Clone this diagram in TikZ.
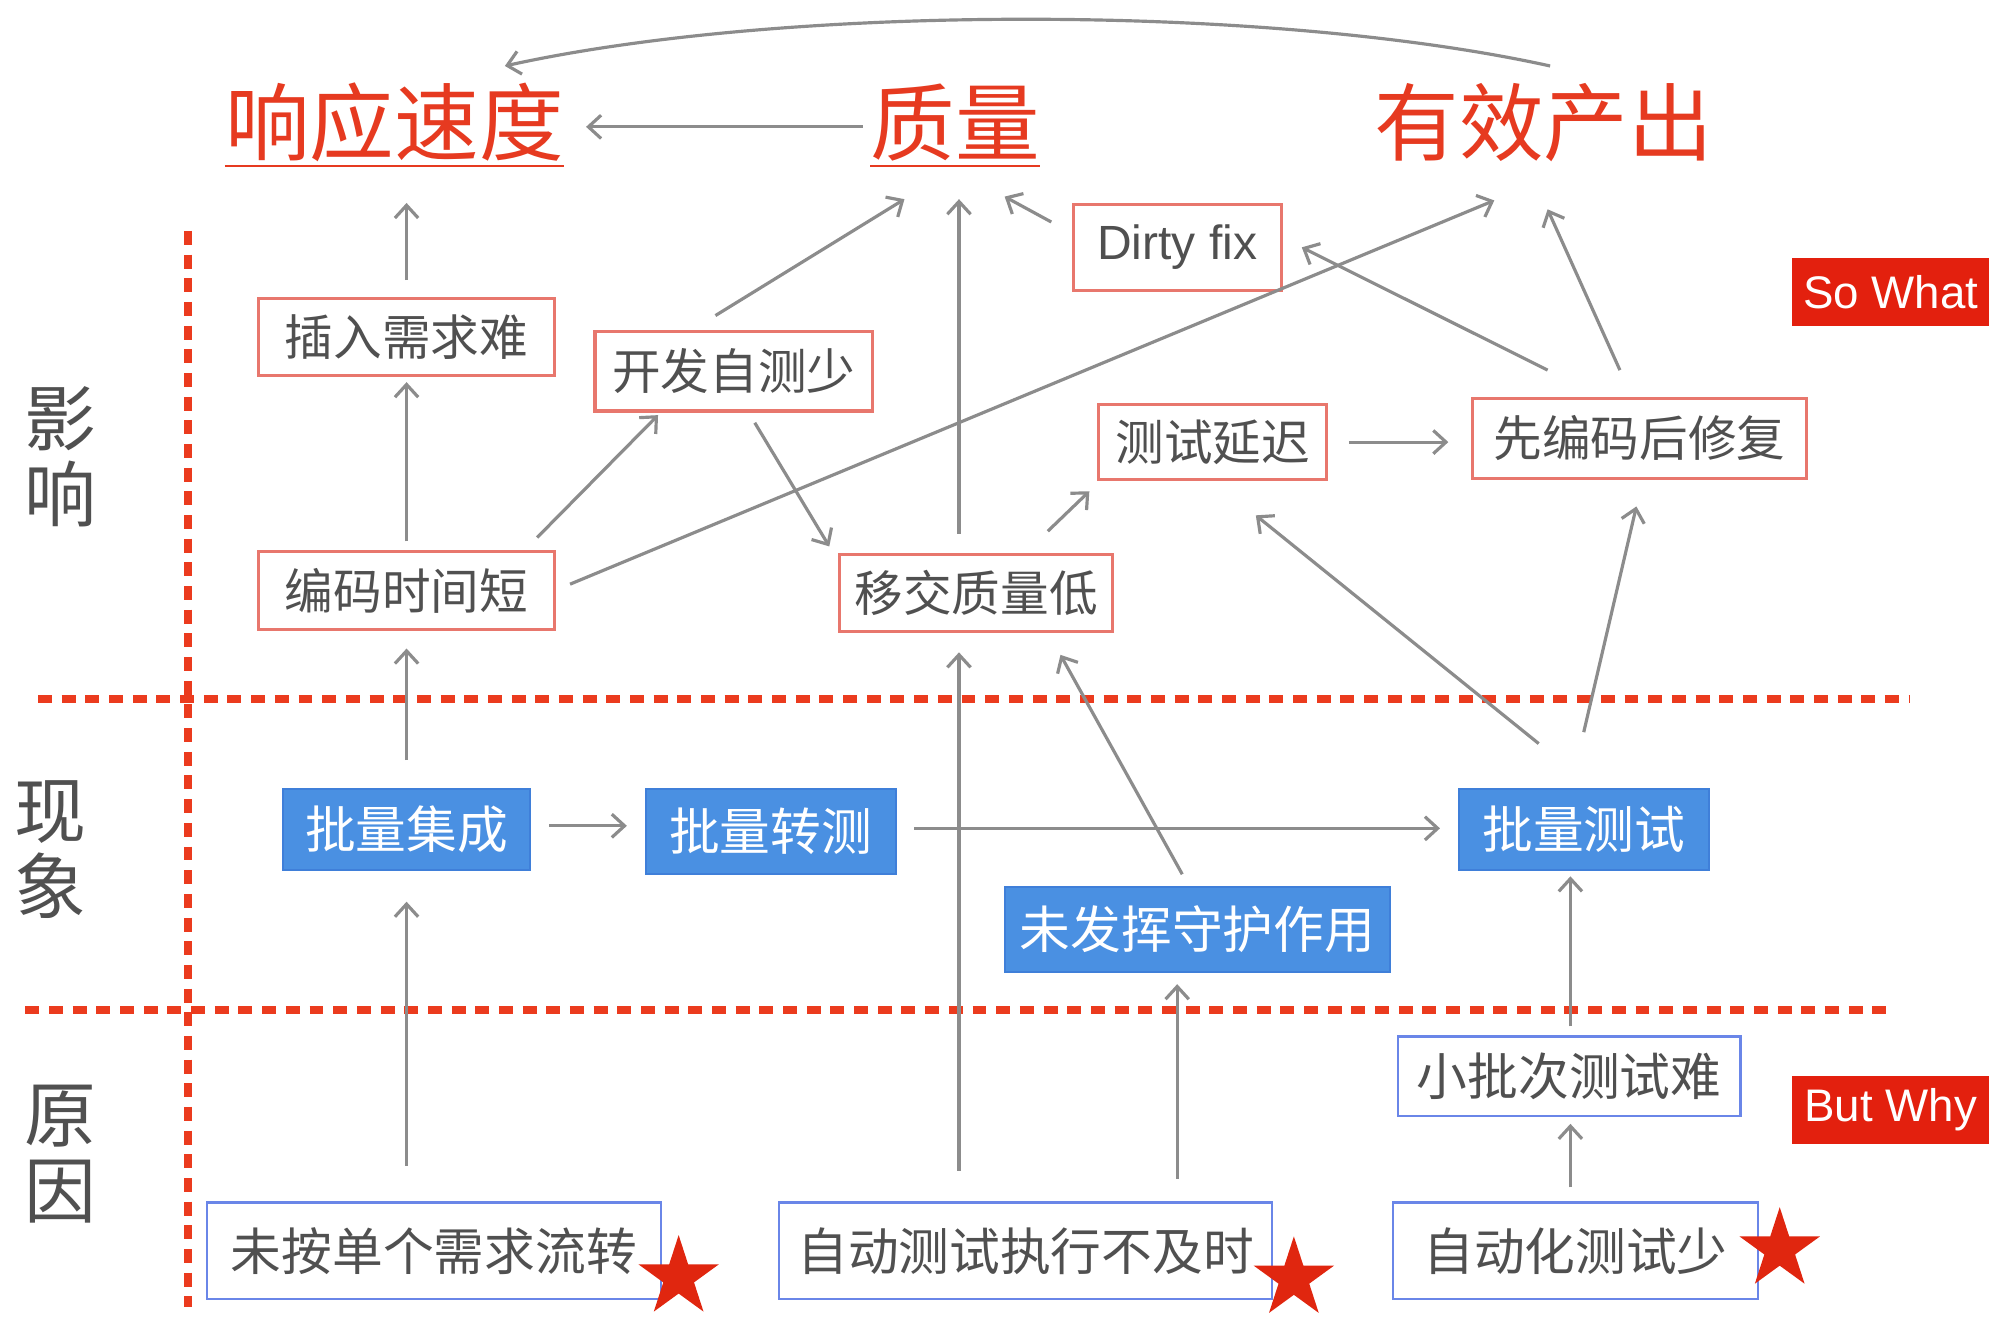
\documentclass[tikz,border=0pt]{standalone}
\usepackage{fontspec}
\setmainfont{Noto Sans CJK SC}
\newfontfamily\lat{Liberation Sans}
\usetikzlibrary{arrows.meta,shapes.geometric,calc}
\definecolor{gr}{HTML}{8C8C8C}
\definecolor{txt}{HTML}{505050}
\definecolor{tred}{HTML}{E63A20}
\definecolor{rbd}{HTML}{E8776D}
\definecolor{dred}{HTML}{EB3B1E}
\definecolor{bfl}{HTML}{4A90E2}
\definecolor{bbd}{HTML}{3F7FD9}
\definecolor{bln}{HTML}{6A86E8}
\definecolor{tagred}{HTML}{E3200E}
\definecolor{sred}{HTML}{E0260F}
\begin{document}
\begin{tikzpicture}[x=0.6pt,y=-0.6pt,
  rbox/.style={draw=rbd, line width=1.5pt, fill=white, text=txt, font=\fontsize{23}{23}\selectfont, inner sep=0pt},
  bfill/.style={draw=bbd, line width=1pt, fill=bfl, text=white, font=\fontsize{24}{24}\selectfont, inner sep=0pt},
  bline/.style={draw=bln, line width=1.1pt, fill=white, text=txt, font=\fontsize{24}{24}\selectfont, inner sep=0pt},
  title/.style={text=tred, font=\fontsize{40}{40}\selectfont, inner sep=0pt, anchor=base},
  side/.style={text=txt, font=\fontsize{34}{36}\selectfont, align=center, inner sep=0pt},
  tag/.style={fill=tagred, text=white, font=\lat\fontsize{21.6}{22}\selectfont, minimum width=93pt, minimum height=32.4pt, inner sep=0pt},
  arr/.style={draw=gr, line width=1.5pt, -{Straight Barb[length=6pt,width=11pt]}},
  sep/.style={draw=dred, line width=3.6pt, dash pattern=on 6.6pt off 4.6pt},
  starn/.style={star, star points=5, star point ratio=2.618, fill=sred, minimum size=40pt, inner sep=0pt},
  uline/.style={draw=tred, line width=1.2pt}
]
\useasboundingbox[fill=white] (0,0) rectangle (1568,1040);

% separators
\draw[sep] (148,182) -- (148,1030);
\draw[sep] (30,551) -- (1505,551);
\draw[sep] (20,796) -- (1490,796);

% side labels
\node[side] (lyx) at (48,360) {影\\响};
\node[side] (lxx) at (40,670) {现\\象};
\node[side] (lyy) at (48,910) {原\\因};

% titles
\node[title] (xy) at (311,122) {响应速度};
\node[title] (zl) at (753,122) {质量};
\node[title] (yx) at (1217,122) {有效产出};
\draw[uline] ($(xy.base west)+(0,9)$) -- ($(xy.base east)+(0,9)$);
\draw[uline] ($(zl.base west)+(0,9)$) -- ($(zl.base east)+(0,9)$);

% tags
\node[tag] (sw) at (1490.5,230) {So What};
\node[tag] (bw) at (1490.5,875) {But Why};

% influence boxes
\node[rbox, minimum width=140pt, minimum height=36.6pt] (crxq) at (320.5,265.5) {插入需求难};
\node[rbox, minimum width=131.4pt, minimum height=37.8pt] (kfzc) at (578.5,292.5) {开发自测少};
\node[rbox, minimum width=98.4pt, minimum height=40.8pt, font=\lat\fontsize{22.7}{23}\selectfont] (dirty) at (928,195) {Dirty fix};
\node[rbox, minimum width=108pt, minimum height=35.4pt] (csyc) at (956,348.5) {测试延迟};
\node[rbox, minimum width=157.8pt, minimum height=37.8pt] (xbm) at (1292.5,345.5) {先编码后修复};
\node[rbox, minimum width=140pt, minimum height=36.6pt] (bmsj) at (320.5,465.5) {编码时间短};
\node[rbox, minimum width=129pt, minimum height=36.6pt] (yjzl) at (769.5,467.5) {移交质量低};

% phenomenon boxes
\node[bfill, minimum width=117pt, minimum height=38.4pt] (plj) at (320.5,654) {批量集成};
\node[bfill, minimum width=118.2pt, minimum height=40.2pt] (plz) at (607.5,655.5) {批量转测};
\node[bfill, minimum width=118.2pt, minimum height=38.4pt] (plc) at (1248.5,654) {批量测试};
\node[bfill, minimum width=182.4pt, minimum height=40.2pt] (wfh) at (944,732.5) {未发挥守护作用};

% cause boxes
\node[bline, minimum width=162pt, minimum height=37.8pt] (xpc) at (1237,848.5) {小批次测试难};
\node[bline, minimum width=214.8pt, minimum height=45.6pt] (waf) at (342,986) {未按单个需求流转};
\node[bline, minimum width=233.4pt, minimum height=45.6pt] (zdzx) at (808.5,986) {自动测试执行不及时};
\node[bline, minimum width=172.8pt, minimum height=45.6pt] (zdh) at (1242,986) {自动化测试少};

% connectors
\draw[arr] ($(crxq.north)+(0,-13)$) -- ($(crxq.north |- xy.base)+(0,38)$);
\draw[arr] ($(bmsj.north)+(0,-7)$) -- ($(crxq.south)+(0,4)$);
\draw[arr] ($(bmsj.north east)+(-15,-10)$) -- ($(kfzc.south west)+(51,2)$);
\draw[arr] ($(bmsj.east)+(11,-5)$) -- ($(yx.base)+(-39,36)$);
\draw[arr] ($(kfzc.north)+(-14.5,-11)$) -- ($(zl.base)+(-40,35)$);
\draw[arr] ($(kfzc.south)+(16.5,8)$) -- ($(yjzl.north west)+(-7,-5)$);
\draw[arr] ($(yjzl.north)+(-13.5,-15)$) -- ($(zl.base)+(3,35)$);
\draw[arr] ($(yjzl.north)+(56.5,-17)$) -- ($(csyc.south west)+(-6,8)$);
\draw[arr] ($(dirty.west)+(-16,-20)$) -- ($(zl.base)+(39,33)$);
\draw[arr] ($(csyc.east)+(16,0)$) -- ($(csyc.east -| xbm.west)+(-18,0)$);
\draw[arr] ($(xbm.north)+(-72.5,-21)$) -- ($(dirty.east)+(15,0)$);
\draw[arr] ($(xbm.north)+(-15.5,-21)$) -- ($(yx.base)+(3,43)$);
\draw[arr] ($(plj.north)+(0,-22)$) -- ($(bmsj.south)+(0,14)$);
\draw[arr] ($(plj.east)+(14,-3)$) -- ($(plj.east -| plz.west)+(-14,-3)$);
\draw[arr] ($(plz.east)+(14,-2.5)$) -- ($(plz.east -| plc.west)+(-14,-2.5)$);
\draw[arr] ($(plc.north)+(-35.5,-35)$) -- ($(csyc.south)+(34,27)$);
\draw[arr] ($(plc.north)+(0,-44)$) -- ($(xbm.south)+(-2.5,21)$);
\draw[arr] ($(waf.north -| plj.south)+(0,-28)$) -- ($(plj.south)+(0,24)$);
\draw[arr] ($(zdzx.north -| yjzl.south)+(-13.5,-24)$) -- ($(yjzl.south)+(-13.5,15)$);
\draw[arr] ($(wfh.north)+(-12,-9)$) -- ($(yjzl.south)+(66.5,17)$);
\draw[arr] ($(zdzx.north -| wfh.south)+(-16,-18)$) -- ($(wfh.south)+(-16,9)$);
\draw[arr] ($(xpc.north)+(1,-7)$) -- ($(plc.south -| xpc.north)+(1,4)$);
\draw[arr] ($(zdh.north -| xpc.south)+(1,-11)$) -- ($(xpc.south)+(1,5)$);
\draw[arr] ($(zl.base)+(-73,-22)$) -- ($(xy.base)+(151,-22)$);
\draw[arr] ($(yx.base)+(5,-70)$) .. controls (1000,3) and (620,3) .. ($(xy.base)+(87,-70)$);

% stars
\node[starn] (s1) at (535,1007) {};
\node[starn] (s2) at (1020,1008) {};
\node[starn] (s3) at (1403,985) {};
\end{tikzpicture}
\end{document}
